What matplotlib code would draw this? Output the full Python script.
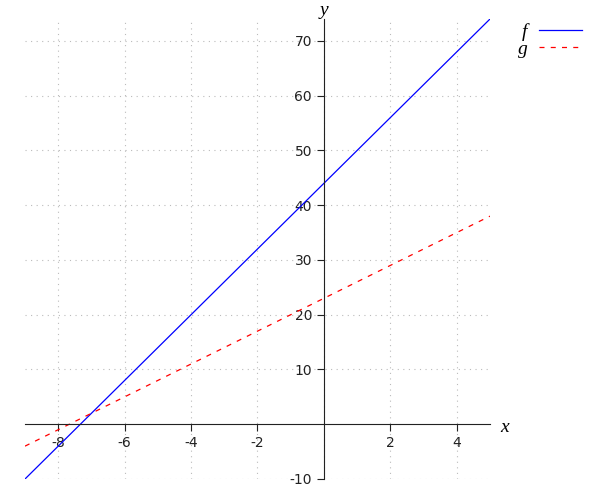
import matplotlib
matplotlib.use("Agg")
import matplotlib.pyplot as plt

plt.rcParams['axes.unicode_minus'] = False

x_pts = [-9, 5]
f_vals = [-10, 74]
g_vals = [-4, 38]
xticks = [-8, -6, -4, -2, 2, 4]
yticks = [-10, 10, 20, 30, 40, 50, 60, 70]

fig = plt.figure(figsize=(6, 5), dpi=100)
ax = fig.add_axes([25/600, 1 - 479/500, 465/600, 460/500])
ax.plot(x_pts, f_vals, color='blue', lw=0.9, label='f')
ax.plot(x_pts, g_vals, color='red', lw=0.9, ls=(0, (4, 5)), label='g')
ax.set_xlim(-9, 5)
ax.set_ylim(-10, 74)

for s in ['top', 'right']:
    ax.spines[s].set_visible(False)
ax.spines['left'].set_position(('data', 0))
ax.spines['bottom'].set_position(('data', 0))
ax.spines['left'].set_color('#222222')
ax.spines['bottom'].set_color('#222222')

ax.set_xticks(xticks)
ax.set_yticks(yticks)
ax.tick_params(labelsize=10, length=5, color='#222222', labelcolor='#222222')

# grid
for xv in [-8, -6, -4, -2, 0, 2, 4]:
    ax.axvline(xv, color='#bbbbbb', lw=0.8, ls=(0, (1, 4)), zorder=0)
for yv in [-10, 10, 20, 30, 40, 50, 60, 70]:
    ax.axhline(yv, color='#bbbbbb', lw=0.8, ls=(0, (1, 4)), zorder=0)

serif = {'family': 'Liberation Serif', 'style': 'italic', 'size': 14}
fig.text(500/600, 1 - 427/500, 'x', fontdict=serif, ha='left', va='center')
fig.text(324/600, 1 - 2/500, 'y', fontdict=serif, ha='center', va='top')

leg = fig.legend(loc='upper left', bbox_to_anchor=(510/600, 1 - 15/500),
                 markerfirst=False, frameon=False, handlelength=2.2,
                 prop={'family': 'Liberation Serif', 'style': 'italic', 'size': 14},
                 labelspacing=0.0, handletextpad=0.6, borderaxespad=0)

fig.savefig('out.png', dpi=100)
